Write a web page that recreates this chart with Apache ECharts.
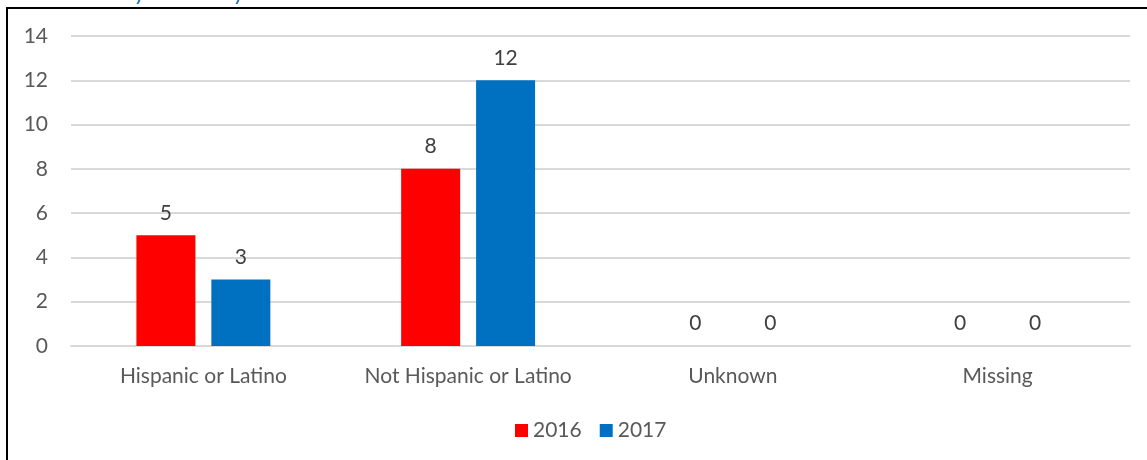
<!DOCTYPE html>
<html><head><meta charset="utf-8">
<script src="https://cdn.jsdelivr.net/npm/echarts@6/dist/echarts.min.js"></script>
<style>html,body{margin:0;padding:0;background:#fff}#c{width:1147px;height:460px}</style>
</head><body><div id="c"></div>
<script>
const categories = ['Hispanic or Latino', 'Not Hispanic or Latino', 'Unknown', 'Missing'];
const values2016 = [5, 8, 0, 0];
const values2017 = [3, 12, 0, 0];
const seriesNames = ['2016', '2017'];
const FONT = 'Lato';
const chart = echarts.init(document.getElementById('c'), null, {renderer: 'canvas'});
const lbl = {show: true, position: 'top', distance: 12, color: '#404040', fontSize: 21, fontFamily: FONT};
chart.setOption({
  animation: false,
  graphic: [
    {type: 'rect', shape: {x: 7, y: 8, width: 1160, height: 470}, style: {fill: 'none', stroke: '#000', lineWidth: 2}},
    {type: 'text', left: 0, top: -20, style: {text: 'Enrollment by Ethnicity', fill: '#2E75B6', fontSize: 24, fontFamily: FONT}}
  ],
  grid: {left: 71, right: 17, top: 36, bottom: 114, containLabel: false},
  legend: {
    data: seriesNames, bottom: 14, left: 510, itemWidth: 13, itemHeight: 13, itemGap: 18,
    icon: 'rect', textStyle: {color: '#595959', fontSize: 21, fontFamily: FONT}
  },
  xAxis: {
    type: 'category', data: categories,
    axisLine: {show: true, lineStyle: {color: '#d9d9d9', width: 2}},
    axisTick: {show: false},
    axisLabel: {color: '#595959', fontSize: 21, fontFamily: FONT, margin: 20, interval: 0}
  },
  yAxis: {
    type: 'value', min: 0, max: 14, interval: 2,
    axisLine: {show: false}, axisTick: {show: false},
    axisLabel: {color: '#595959', fontSize: 21, fontFamily: FONT, margin: 23},
    splitLine: {lineStyle: {color: '#d9d9d9', width: 2}}
  },
  series: [
    {name: seriesNames[0], type: 'bar', data: values2016, barWidth: 59, barGap: '27%', itemStyle: {color: '#FF0000'}, label: lbl},
    {name: seriesNames[1], type: 'bar', data: values2017, barWidth: 59, itemStyle: {color: '#0070C0'}, label: lbl}
  ]
});
</script></body></html>
